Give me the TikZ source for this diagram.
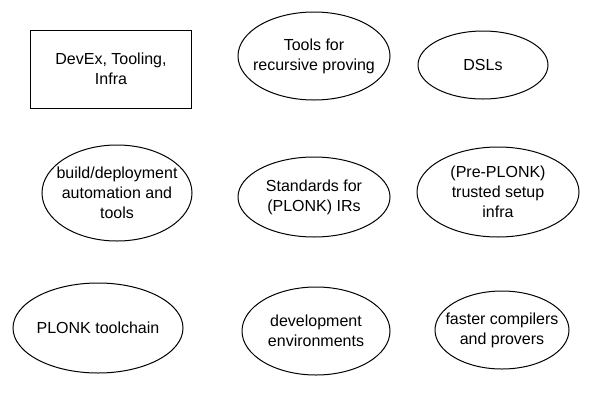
\documentclass[tikz,border=0pt]{standalone}
\usepackage{fontspec}
\setmainfont{Liberation Sans}
\usetikzlibrary{shapes.geometric}
\begin{document}
\begin{tikzpicture}[x=1pt, y=-1pt,
    topic/.style={ellipse, draw, line width=1pt, inner sep=0pt},
    every label/.style={align=center, inner sep=0pt, font=\fontsize{16}{20}\selectfont}]
      \useasboundingbox (0,0) rectangle (600,400);
      \node (devex) at (111,69) [rectangle, draw, line width=1pt, minimum width=161pt, minimum height=78pt, align=center, font=\fontsize{16}{20}\selectfont] {DevEx, Tooling,\\Infra};
      \node (recursive) at (314,56) [topic, minimum width=152pt, minimum height=88pt, label=center:{Tools for\\recursive proving}] {};
      \node (dsls) at (483,65) [topic, minimum width=130pt, minimum height=68pt, label=center:{DSLs}] {};
      \node (build) at (117,193) [topic, minimum width=150pt, minimum height=96pt, label=center:{build/deployment\\automation and\\tools}] {};
      \node (standards) at (314,197) [topic, minimum width=152pt, minimum height=80pt, label=center:{Standards for\\(PLONK) IRs}] {};
      \node (setup) at (498,192) [topic, minimum width=162pt, minimum height=90pt, label=center:{(Pre-PLONK)\\trusted setup\\infra}] {};
      \node (toolchain) at (98,328) [topic, minimum width=170pt, minimum height=90pt, label=center:{PLONK toolchain}] {};
      \node (envs) at (316,331) [topic, minimum width=148pt, minimum height=88pt, label=center:{development\\environments}] {};
      \node (faster) at (502,330) [topic, minimum width=134pt, minimum height=78pt, label=center:{faster compilers\\and provers}] {};
\end{tikzpicture}
\end{document}
